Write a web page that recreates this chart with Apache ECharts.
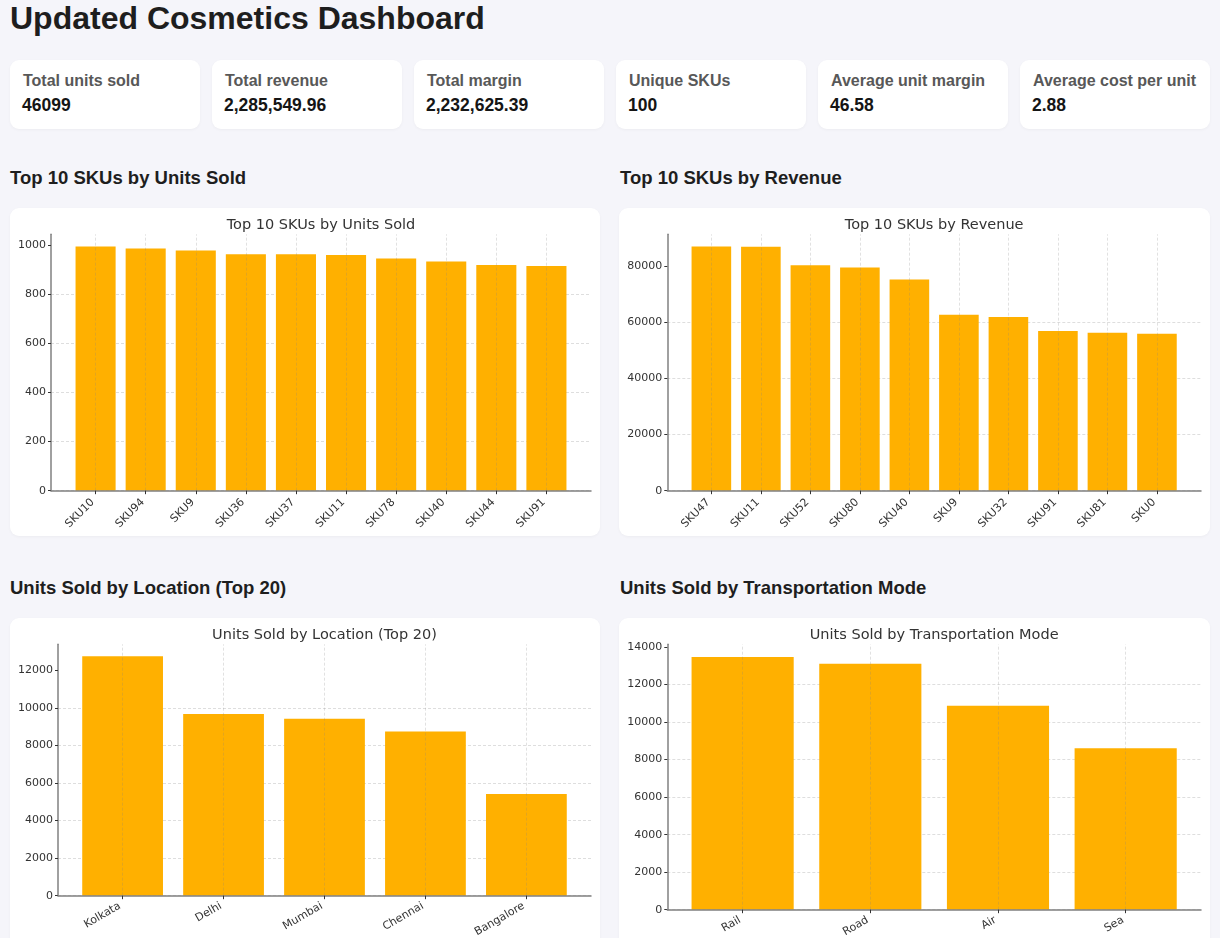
<!DOCTYPE html>
<html>
<head>
<meta charset="utf-8">
<script src="https://cdn.jsdelivr.net/npm/echarts@6/dist/echarts.min.js"></script>
<style>
  html, body { margin: 0; padding: 0; }
  body {
    width: 1220px; height: 938px; overflow: hidden; position: relative;
    background: #f5f5fa; font-family: "Liberation Sans", Arial, sans-serif;
  }
  h1 {
    position: absolute; left: 10px; top: 2px; margin: 0;
    font-size: 32px; line-height: 32px; font-weight: bold; color: #1e1e1e;
  }
  .kpi {
    position: absolute; top: 60px; width: 190px; height: 69px;
    background: #fff; border-radius: 9px; box-shadow: 0 1px 3px rgba(0,0,0,0.04);
  }
  .kpi .lbl {
    position: absolute; left: 13px; top: 13px;
    font-size: 16px; line-height: 16px; font-weight: bold; color: #585858; white-space: nowrap;
  }
  .kpi .val {
    position: absolute; left: 12px; top: 37px;
    font-size: 17.5px; line-height: 17.5px; font-weight: bold; color: #151515;
  }
  h2 {
    position: absolute; margin: 0; font-size: 18.5px; line-height: 18.5px;
    font-weight: bold; color: #1e1e1e; white-space: nowrap;
  }
  .card {
    position: absolute; background: #fff; border-radius: 9px; overflow: hidden;
    box-shadow: 0 1px 3px rgba(0,0,0,0.04);
  }
</style>
</head>
<body>
<h1>Updated Cosmetics Dashboard</h1>
<div id="kpis"></div>

<h2 style="left:10px; top:169px;">Top 10 SKUs by Units Sold</h2>
<h2 style="left:620px; top:169px;">Top 10 SKUs by Revenue</h2>
<h2 style="left:10px; top:579px;">Units Sold by Location (Top 20)</h2>
<h2 style="left:620px; top:579px;">Units Sold by Transportation Mode</h2>

<div id="c1" class="card" style="left:10px; top:208px; width:590px; height:328px;"></div>
<div id="c2" class="card" style="left:619px; top:208px; width:591px; height:328px;"></div>
<div id="c3" class="card" style="left:10px; top:618px; width:590px; height:340px;"></div>
<div id="c4" class="card" style="left:619px; top:618px; width:591px; height:340px;"></div>

<script>
// KPI cards
const kpiLabels = ['Total units sold', 'Total revenue', 'Total margin', 'Unique SKUs', 'Average unit margin', 'Average cost per unit'];
const kpiValues = ['46099', '2,285,549.96', '2,232,625.39', '100', '46.58', '2.88'];

// top 10 by units
const unitsSkus = ['SKU10', 'SKU94', 'SKU9', 'SKU36', 'SKU37', 'SKU11', 'SKU78', 'SKU40', 'SKU44', 'SKU91'];
const unitsSold = [993, 985, 977, 962, 962, 958, 944, 932, 918, 914];
const unitsTicks = [0, 200, 400, 600, 800, 1000];

// top 10 by revenue
const revenueSkus = ['SKU47', 'SKU11', 'SKU52', 'SKU80', 'SKU40', 'SKU9', 'SKU32', 'SKU91', 'SKU81', 'SKU0'];
const revenue = [86900, 86780, 80240, 79400, 75120, 62620, 61790, 56790, 56190, 55830];
const revenueTicks = [0, 20000, 40000, 60000, 80000];

// by location
const locations = ['Kolkata', 'Delhi', 'Mumbai', 'Chennai', 'Bangalore'];
const locationUnits = [12750, 9670, 9420, 8750, 5420];
const locationTicks = [0, 2000, 4000, 6000, 8000, 10000, 12000];

// by transport mode
const modes = ['Rail', 'Road', 'Air', 'Sea'];
const modeUnits = [13470, 13110, 10870, 8610];
const modeTicks = [0, 2000, 4000, 6000, 8000, 10000, 12000, 14000];

let kpiHtml = '';
kpiLabels.forEach((l, i) => {
  kpiHtml += '<div class="kpi" style="left:' + (10 + i * 202) + 'px"><div class="lbl">' + l +
    '</div><div class="val">' + kpiValues[i] + '</div></div>';
});
document.getElementById('kpis').innerHTML = kpiHtml;

const FONT = 'DejaVu Sans';

// matplotlib-like bar chart: plot rect with 5% margins, bars 0.8 wide
function barChart(id, title, cats, values, ticks, rotate, pos) {
  const el = document.getElementById(id);
  const chart = echarts.init(el);
  const W = el.clientWidth - pos.left - pos.right;
  const n = cats.length;
  const span = n - 0.2;
  const unit = W / (1.1 * span);
  const inset = (0.05 * span - 0.1) * unit;
  const yMax = Math.max(...values) * 1.05;
  const step = ticks[1] - ticks[0];

  chart.setOption({
    animation: false,
    textStyle: { fontFamily: FONT },
    graphic: [{
      type: 'text', x: pos.left + W / 2, y: 17,
      style: { text: title, textAlign: 'center', textVerticalAlign: 'middle', verticalAlign: 'middle',
        fontSize: 14.5, fontFamily: FONT, fill: '#333' }
    }],
    grid: [
      { left: pos.left, right: pos.right, top: pos.top, bottom: pos.bottom, containLabel: false, outerBoundsMode: 'none' },
      { left: pos.left + inset, right: pos.right + inset, top: pos.top, bottom: pos.bottom, containLabel: false, outerBoundsMode: 'none' }
    ],
    xAxis: [
      { type: 'value', gridIndex: 0, min: 0, max: 1, z: 5,
        axisLine: { show: true, lineStyle: { color: '#808080', width: 1.5 } },
        axisTick: { show: false }, axisLabel: { show: false }, splitLine: { show: false } },
      { type: 'category', gridIndex: 1, data: cats, z: 6,
        axisLine: { show: false },
        axisTick: { show: true, alignWithLabel: true, length: 3.5, lineStyle: { color: '#333', width: 1 } },
        axisLabel: { interval: 0, rotate: rotate, margin: rotate > 40 ? 7 : 8, padding: [0, rotate > 40 ? 4 : 3, 0, 0],
          fontSize: 11, color: '#333', fontFamily: FONT },
        splitLine: { show: false } }
    ],
    yAxis: [
      { type: 'value', gridIndex: 0, min: 0, max: yMax, interval: step,
        axisLine: { show: true, lineStyle: { color: '#808080', width: 1.5 } },
        axisTick: { show: true, length: 3, customValues: ticks, lineStyle: { color: '#333' } },
        axisLabel: { customValues: ticks, formatter: v => String(v), fontSize: 11, color: '#333', margin: 5, fontFamily: FONT },
        splitLine: { show: true, showMaxLine: false, lineStyle: { type: [3, 2], color: '#d6d6d6', width: 0.8 } } },
      { type: 'value', gridIndex: 1, min: 0, max: yMax, show: false, splitLine: { show: false } }
    ],
    series: [{
      type: 'bar', xAxisIndex: 1, yAxisIndex: 1, data: values, barWidth: '80%',
      itemStyle: { color: '#ffb000' },
      markLine: {
        silent: true, symbol: 'none', label: { show: false },
        lineStyle: { type: [3, 2], color: 'rgba(128,128,128,0.3)', width: 0.8 },
        data: cats.map(c => ({ xAxis: c }))
      }
    }]
  });
}

barChart('c1', 'Top 10 SKUs by Units Sold', unitsSkus, unitsSold, unitsTicks, 45,
  { left: 41, right: 9, top: 26.3, bottom: 45.3 });
barChart('c2', 'Top 10 SKUs by Revenue', revenueSkus, revenue, revenueTicks, 45,
  { left: 48.3, right: 9, top: 26.3, bottom: 45.3 });
barChart('c3', 'Units Sold by Location (Top 20)', locations, locationUnits, locationTicks, 30,
  { left: 48, right: 9, top: 26.3, bottom: 62.3 });
barChart('c4', 'Units Sold by Transportation Mode', modes, modeUnits, modeTicks, 30,
  { left: 48.3, right: 9, top: 26.3, bottom: 48.3 });
</script>
</body>
</html>
